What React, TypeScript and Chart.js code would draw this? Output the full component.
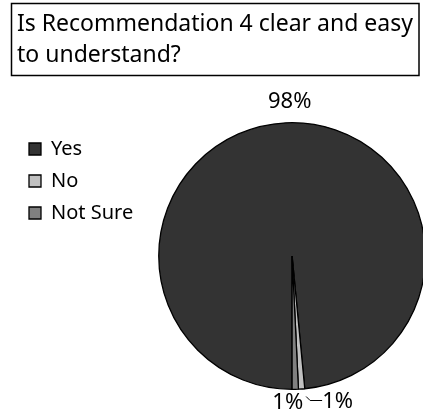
import React, { useEffect, useRef } from "react";
import { Chart, registerables } from "chart.js";

Chart.register(...registerables);

const categories = ["Yes", "No", "Not Sure"];
const responses = [130, 1, 1];
const sliceColors = ["#333333", "#c0c0c0", "#808080"];
const titleLines = ["Is Recommendation 4 clear and easy", "to understand?"];

const FONT = "'Noto Sans', 'Liberation Sans', sans-serif";

const titleBoxPlugin = {
  id: "titleBox",
  afterDraw(chart: any) {
    const ctx = chart.ctx;
    ctx.save();
    ctx.strokeStyle = "#000";
    ctx.lineWidth = 1.5;
    ctx.strokeRect(11.5, 3.5, 407.5, 72);
    ctx.restore();
  },
};

const pctLabelPlugin = {
  id: "pctLabels",
  afterDatasetsDraw(chart: any) {
    const ctx = chart.ctx;
    const meta = chart.getDatasetMeta(0);
    const data = chart.data.datasets[0].data as number[];
    const total = data.reduce((a, b) => a + b, 0);
    ctx.save();
    ctx.font = `22px ${FONT}`;
    ctx.fillStyle = "#000";
    ctx.strokeStyle = "#000";
    ctx.lineWidth = 1;
    ctx.textAlign = "center";
    ctx.textBaseline = "middle";
    meta.data.forEach((arc: any, i: number) => {
      const { x, y, startAngle, endAngle, outerRadius } = arc.getProps(
        ["x", "y", "startAngle", "endAngle", "outerRadius"],
        true
      );
      const mid = (startAngle + endAngle) / 2;
      const ax = x + Math.cos(mid) * outerRadius;
      const ay = y + Math.sin(mid) * outerRadius;
      const text = Math.round((data[i] / total) * 100) + "%";
      let lx: number;
      let ly: number;
      if (i === 0) {
        lx = x + Math.cos(mid) * (outerRadius + 21) + 5;
        ly = y + Math.sin(mid) * (outerRadius + 21);
      } else if (i === 1) {
        ctx.beginPath();
        ctx.moveTo(ax + 4.5, ay + 7.5);
        ctx.lineTo(ax + 8.5, ay + 11.5);
        ctx.lineTo(ax + 20.5, ay + 11.5);
        ctx.stroke();
        lx = ax + 36;
        ly = ay + 13;
      } else {
        lx = ax - 7.5;
        ly = ay + 13;
      }
      ctx.fillText(text, lx, ly);
    });
    ctx.restore();
  },
};

export default function App() {
  const ref = useRef<HTMLCanvasElement>(null);

  useEffect(() => {
    if (!ref.current) return;
    const chart = new Chart(ref.current, {
      type: "pie",
      data: {
        labels: categories,
        datasets: [
          {
            data: responses,
            backgroundColor: sliceColors,
            borderColor: "#000000",
            borderWidth: 1.3,
          },
        ],
      },
      options: {
        responsive: false,
        animation: false,
        devicePixelRatio: 1,
        rotation: 180,
        layout: { padding: { left: 17, top: 0, right: 0, bottom: 26 } },
        plugins: {
          tooltip: { enabled: false },
          title: {
            display: true,
            text: titleLines,
            align: "start",
            color: "#000",
            font: { family: FONT, size: 23, weight: "normal", lineHeight: 31 / 23 },
            padding: { top: 9, bottom: 51 },
          },
          legend: {
            position: "left",
            align: "start",
            fullSize: false,
            title: { display: true, text: "", padding: 0, font: { size: 5, lineHeight: 1 } },
            labels: {
              boxWidth: 12,
              boxHeight: 12,
              padding: 12,
              color: "#000",
              font: { family: FONT, size: 20 },
            },
          },
        },
      },
      plugins: [titleBoxPlugin, pctLabelPlugin],
    } as any);
    return () => chart.destroy();
  }, []);

  return (
    <div
      style={{
        position: "absolute",
        left: 0,
        top: 0,
        width: 423,
        height: 416,
        overflow: "hidden",
        background: "#fff",
      }}
    >
      <canvas ref={ref} width={441} height={416} style={{ display: "block" }} />
    </div>
  );
}
